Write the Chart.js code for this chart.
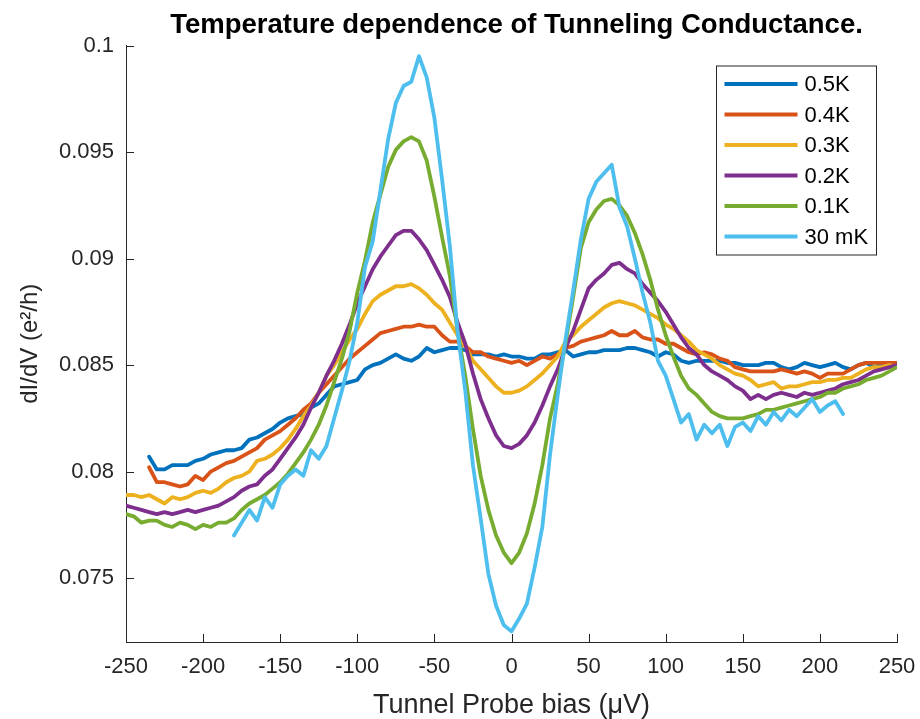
<!DOCTYPE html>
<html>
<head>
<meta charset="utf-8">
<script src="https://cdn.jsdelivr.net/npm/chart.js@4.4.1/dist/chart.umd.min.js"></script>
<style>
  html, body { margin: 0; padding: 0; background: #fff; }
</style>
</head>
<body>
<canvas id="tunnelChart" width="920" height="719"></canvas>
<script>
// bias values (µV) shared by every curve
const biasUV = [
  -250, -245, -240, -235, -230, -225, -220, -215, -210, -205,
  -200, -195, -190, -185, -180, -175, -170, -165, -160, -155,
  -150, -145, -140, -135, -130, -125, -120, -115, -110, -105,
  -100, -95, -90, -85, -80, -75, -70, -65, -60, -55,
  -50, -45, -40, -35, -30, -25, -20, -15, -10, -5,
  0, 5, 10, 15, 20, 25, 30, 35, 40, 45,
  50, 55, 60, 65, 70, 75, 80, 85, 90, 95,
  100, 105, 110, 115, 120, 125, 130, 135, 140, 145,
  150, 155, 160, 165, 170, 175, 180, 185, 190, 195,
  200, 205, 210, 215, 220, 225, 230, 235, 240, 245,
  250
];

// dI/dV in e^2/h
const g05K = [
  null, null, null, 0.0807, 0.0801, 0.0801, 0.0803, 0.0803, 0.0803, 0.0805,
  0.0806, 0.0808, 0.0809, 0.0810, 0.0810, 0.0811, 0.0815, 0.0816, 0.0818, 0.0820,
  0.0823, 0.0825, 0.0826, 0.0827, 0.0830, 0.0832, 0.0836, 0.0840, 0.0841, 0.0842,
  0.0843, 0.0848, 0.0850, 0.0851, 0.0853, 0.0855, 0.0853, 0.0852, 0.0854, 0.0858,
  0.0856, 0.0857, 0.0858, 0.0858, 0.0857, 0.0855, 0.0855, 0.0855, 0.0854, 0.0855,
  0.0854, 0.0854, 0.0853, 0.0853, 0.0855, 0.0855, 0.0856, 0.0857, 0.0854, 0.0855,
  0.0856, 0.0856, 0.0857, 0.0857, 0.0857, 0.0858, 0.0858, 0.0857, 0.0856, 0.0854,
  0.0856, 0.0855, 0.0852, 0.0851, 0.0852, 0.0852, 0.0852, 0.0852, 0.0851, 0.0851,
  0.0850, 0.0850, 0.0850, 0.0851, 0.0851, 0.0849, 0.0848, 0.0849, 0.0851, 0.0850,
  0.0849, 0.0850, 0.0851, 0.0849, 0.0848, 0.0850, 0.0851, 0.0849, 0.0850, 0.0851,
  0.0851
];
const g04K = [
  null, null, null, 0.0802, 0.0795, 0.0795, 0.0794, 0.0793, 0.0794, 0.0798,
  0.0796, 0.0800, 0.0802, 0.0804, 0.0805, 0.0807, 0.0809, 0.0811, 0.0815, 0.0817,
  0.0819, 0.0822, 0.0825, 0.0829, 0.0832, 0.0837, 0.0841, 0.0845, 0.0849, 0.0853,
  0.0856, 0.0859, 0.0862, 0.0865, 0.0866, 0.0867, 0.0868, 0.0868, 0.0869, 0.0868,
  0.0868, 0.0864, 0.0861, 0.0861, 0.0859, 0.0856, 0.0856, 0.0854, 0.0853, 0.0852,
  0.0851, 0.0852, 0.0850, 0.0852, 0.0854, 0.0853, 0.0855, 0.0858, 0.0859, 0.0861,
  0.0862, 0.0863, 0.0864, 0.0866, 0.0864, 0.0864, 0.0866, 0.0863, 0.0862, 0.0862,
  0.0860, 0.0860, 0.0858, 0.0856, 0.0855, 0.0856, 0.0855, 0.0853, 0.0852, 0.0849,
  0.0848, 0.0847, 0.0847, 0.0847, 0.0847, 0.0848, 0.0847, 0.0846, 0.0847, 0.0846,
  0.0844, 0.0846, 0.0846, 0.0846, 0.0848, 0.0850, 0.0851, 0.0851, 0.0851, 0.0851,
  0.0851
];
const g03K = [
  0.0789, 0.0789, 0.0788, 0.0789, 0.0787, 0.0785, 0.0788, 0.0787, 0.0788, 0.0790,
  0.0791, 0.0790, 0.0792, 0.0795, 0.0797, 0.0798, 0.0800, 0.0805, 0.0806, 0.0808,
  0.0811, 0.0815, 0.0820, 0.0826, 0.0831, 0.0837, 0.0845, 0.0850, 0.0856, 0.0862,
  0.0867, 0.0874, 0.0880, 0.0883, 0.0885, 0.0887, 0.0887, 0.0888, 0.0886, 0.0883,
  0.0879, 0.0876, 0.0870, 0.0864, 0.0859, 0.0852, 0.0848, 0.0844, 0.0840, 0.0837,
  0.0837, 0.0838, 0.0840, 0.0843, 0.0846, 0.0850, 0.0854, 0.0861, 0.0864, 0.0868,
  0.0871, 0.0874, 0.0877, 0.0879, 0.0880, 0.0879, 0.0878, 0.0876, 0.0874, 0.0872,
  0.0869, 0.0867, 0.0864, 0.0861, 0.0857, 0.0855, 0.0853, 0.0850, 0.0848, 0.0846,
  0.0845, 0.0843, 0.0840, 0.0841, 0.0842, 0.0839, 0.0840, 0.0840, 0.0841, 0.0842,
  0.0842, 0.0843, 0.0843, 0.0844, 0.0844, 0.0846, 0.0848, 0.0849, 0.0849, 0.0850,
  0.0849
];
const g02K = [
  0.0784, 0.0783, 0.0782, 0.0781, 0.0780, 0.0781, 0.0780, 0.0781, 0.0782, 0.0781,
  0.0782, 0.0783, 0.0784, 0.0786, 0.0788, 0.0791, 0.0793, 0.0794, 0.0798, 0.0801,
  0.0806, 0.0811, 0.0816, 0.0822, 0.0830, 0.0837, 0.0845, 0.0852, 0.0860, 0.0869,
  0.0879, 0.0887, 0.0895, 0.0901, 0.0906, 0.0911, 0.0913, 0.0913, 0.0909, 0.0904,
  0.0897, 0.0890, 0.0882, 0.0870, 0.0860, 0.0846, 0.0834, 0.0825, 0.0817, 0.0812,
  0.0811, 0.0813, 0.0817, 0.0823, 0.0831, 0.0840, 0.0848, 0.0858, 0.0866, 0.0876,
  0.0886, 0.0890, 0.0893, 0.0897, 0.0898, 0.0895, 0.0893, 0.0888, 0.0884, 0.0880,
  0.0875, 0.0869, 0.0863, 0.0858, 0.0855, 0.0850, 0.0847, 0.0845, 0.0843, 0.0840,
  0.0838, 0.0834, 0.0836, 0.0834, 0.0836, 0.0837, 0.0836, 0.0835, 0.0837, 0.0836,
  0.0837, 0.0838, 0.0839, 0.0841, 0.0842, 0.0843, 0.0845, 0.0847, 0.0848, 0.0849,
  0.0850
];
const g01K = [
  0.0780, 0.0779, 0.0776, 0.0777, 0.0777, 0.0775, 0.0774, 0.0776, 0.0775, 0.0773,
  0.0775, 0.0774, 0.0776, 0.0776, 0.0778, 0.0782, 0.0785, 0.0787, 0.0789, 0.0792,
  0.0795, 0.0799, 0.0804, 0.0809, 0.0815, 0.0822, 0.0831, 0.0842, 0.0853, 0.0866,
  0.0884, 0.0899, 0.0917, 0.0930, 0.0943, 0.0951, 0.0955, 0.0957, 0.0955, 0.0946,
  0.0929, 0.0910, 0.0892, 0.0866, 0.0845, 0.0820, 0.0798, 0.0782, 0.0770, 0.0762,
  0.0757, 0.0762, 0.0771, 0.0785, 0.0803, 0.0825, 0.0841, 0.0860, 0.0882, 0.0905,
  0.0917, 0.0923, 0.0927, 0.0928, 0.0925, 0.0920, 0.0912, 0.0902, 0.0890, 0.0876,
  0.0864, 0.0854, 0.0845, 0.0839, 0.0836, 0.0832, 0.0828, 0.0826, 0.0825, 0.0825,
  0.0825, 0.0826, 0.0827, 0.0829, 0.0829, 0.0830, 0.0831, 0.0832, 0.0833, 0.0834,
  0.0835, 0.0837, 0.0837, 0.0839, 0.0840, 0.0841, 0.0843, 0.0844, 0.0845, 0.0847,
  0.0849
];
const g30mK = [
  null, null, null, null, null, null, null, null, null, null,
  null, null, null, null, 0.0770, 0.0776, 0.0782, 0.0777, 0.0788, 0.0783,
  0.0794, 0.0798, 0.0801, 0.0798, 0.0810, 0.0806, 0.0812, 0.0825, 0.0838, 0.0852,
  0.0870, 0.0896, 0.0908, 0.0932, 0.0956, 0.0973, 0.0981, 0.0983, 0.0995, 0.0985,
  0.0966, 0.0937, 0.0906, 0.0866, 0.0838, 0.0803, 0.0778, 0.0752, 0.0737, 0.0728,
  0.0725, 0.0731, 0.0738, 0.0755, 0.0774, 0.0808, 0.0836, 0.0862, 0.0885, 0.0909,
  0.0928, 0.0936, 0.0940, 0.0944, 0.0924, 0.0915, 0.0900, 0.0884, 0.0870, 0.0852,
  0.0845, 0.0834, 0.0823, 0.0827, 0.0815, 0.0822, 0.0818, 0.0822, 0.0812, 0.0821,
  0.0823, 0.0819, 0.0826, 0.0822, 0.0828, 0.0824, 0.0829, 0.0826, 0.0830, 0.0834,
  0.0828, 0.0831, 0.0833, 0.0827, null, null, null, null, null, null,
  null
];

const seriesLabels = ["0.5K", "0.4K", "0.3K", "0.2K", "0.1K", "30 mK"];
const seriesValues = [g05K, g04K, g03K, g02K, g01K, g30mK];
const seriesColors = ["#0072BD", "#D95319", "#EDB120", "#7E2F8E", "#77AC30", "#4DBEEE"];

const xTicks = [-250, -200, -150, -100, -50, 0, 50, 100, 150, 200, 250];
const yTicks = [0.075, 0.08, 0.085, 0.09, 0.095, 0.1];

const axisColor = "#262626";
const fontFamily = "'Liberation Sans', Arial, Helvetica, sans-serif";
Chart.defaults.font.family = fontFamily;

// MATLAB style ticks pointing into the axes
const inwardTicks = {
    id: "inwardTicks",
    afterDatasetsDraw(chart) {
        const {ctx, chartArea, scales} = chart;
        ctx.save();
        ctx.strokeStyle = axisColor;
        ctx.lineWidth = 1;
        ctx.beginPath();
        for (let v of xTicks) {
            const px = Math.round(scales.x.getPixelForValue(v)) + 0.5;
            ctx.moveTo(px, chartArea.bottom);
            ctx.lineTo(px, chartArea.bottom - 8);
        }
        for (let v of yTicks) {
            const py = Math.round(scales.y.getPixelForValue(v)) + 0.5;
            ctx.moveTo(chartArea.left, py);
            ctx.lineTo(chartArea.left + 8, py);
        }
        ctx.stroke();
        ctx.restore();
    }
};

// title centred over the axes, and the boxed legend in the upper right
const overlay = {
    id: "overlay",
    afterDraw(chart) {
        const {ctx, chartArea} = chart;
        ctx.save();
        ctx.fillStyle = "#000";
        ctx.font = "bold 27.5px " + fontFamily;
        ctx.textAlign = "center";
        ctx.textBaseline = "middle";
        ctx.fillText("Temperature dependence of Tunneling Conductance.", (chartArea.left + chartArea.right) / 2 + 5, 25);

        const boxLeft = chartArea.right - 180.5;
        const boxTop = chartArea.top + 20.5;
        const boxW = 160;
        const rowH = 30.5;
        const boxH = rowH * seriesLabels.length + 6;
        ctx.fillStyle = "#fff";
        ctx.fillRect(boxLeft, boxTop, boxW, boxH);
        ctx.strokeStyle = axisColor;
        ctx.lineWidth = 1;
        ctx.strokeRect(boxLeft, boxTop, boxW, boxH);

        ctx.font = "22px " + fontFamily;
        ctx.textAlign = "left";
        seriesLabels.forEach((label, i) => {
            const y = boxTop + 18 + rowH * i;
            ctx.strokeStyle = seriesColors[i];
            ctx.lineWidth = 4;
            ctx.beginPath();
            ctx.moveTo(boxLeft + 8, y);
            ctx.lineTo(boxLeft + 81, y);
            ctx.stroke();
            ctx.fillStyle = "#000";
            ctx.fillText(label, boxLeft + 88, y + 1);
        });
        ctx.restore();
    }
};

let datasets = [];
seriesLabels.forEach((label, i) => {
    datasets.push({
        label: label,
        data: biasUV.map((x, j) => ({x: x, y: seriesValues[i][j]})),
        borderColor: seriesColors[i],
        borderWidth: 3.8,
        pointRadius: 0,
        tension: 0,
        borderJoinStyle: "round",
        borderCapStyle: "round",
        spanGaps: false,
        order: seriesLabels.length - i
    });
});

new Chart(document.getElementById("tunnelChart"), {
    type: "line",
    data: {datasets: datasets},
    plugins: [inwardTicks, overlay],
    options: {
        responsive: false,
        animation: false,
        devicePixelRatio: 1,
        layout: {padding: {left: 0, right: 23, top: 45.5, bottom: 0}},
        plugins: {
            legend: {display: false},
            title: {display: false},
            tooltip: {enabled: false}
        },
        scales: {
            x: {
                type: "linear",
                min: -250,
                max: 250,
                afterBuildTicks: (scale) => { scale.ticks = xTicks.map(v => ({value: v})); },
                afterFit: (scale) => { scale.height = 77; scale.paddingLeft = 0; scale.paddingRight = 0; },
                grid: {display: false, drawTicks: false},
                border: {display: true, color: axisColor, width: 1},
                ticks: {
                    color: axisColor,
                    font: {size: 22},
                    padding: 12,
                    maxRotation: 0,
                    callback: (v) => String(v)
                },
                title: {
                    display: true,
                    text: "Tunnel Probe bias (μV)",
                    color: axisColor,
                    font: {size: 27, lineHeight: 1.0},
                    padding: {top: 0, bottom: 0}
                }
            },
            y: {
                type: "linear",
                min: 0.072,
                max: 0.1,
                afterBuildTicks: (scale) => { scale.ticks = yTicks.map(v => ({value: v})); },
                afterFit: (scale) => { scale.width = 126; scale.paddingTop = 0; scale.paddingBottom = 0; },
                grid: {display: false, drawTicks: false},
                border: {display: true, color: axisColor, width: 1},
                ticks: {
                    color: axisColor,
                    font: {size: 22},
                    padding: 12,
                    callback: (v) => String(v)
                },
                title: {
                    display: true,
                    text: "dI/dV (e²/h)",
                    color: axisColor,
                    font: {size: 24, lineHeight: 1.0},
                    padding: {top: 18, bottom: 0}
                }
            }
        }
    }
});
</script>
</body>
</html>
